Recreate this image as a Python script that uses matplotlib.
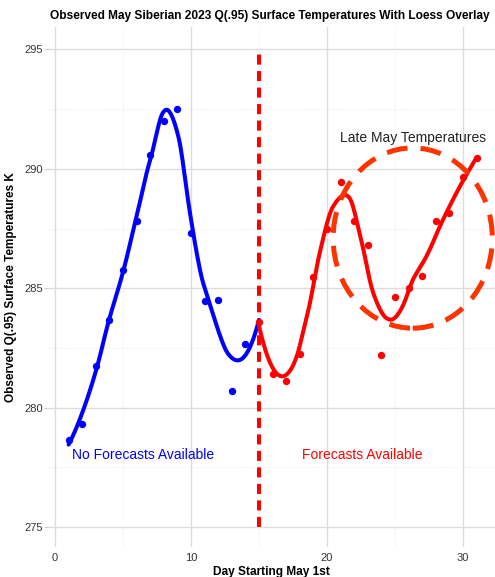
import numpy as np
import matplotlib
matplotlib.use("Agg")
import matplotlib.pyplot as plt
from matplotlib.patches import Ellipse

plt.rcParams['font.family'] = ['Liberation Sans', 'DejaVu Sans']

# Observed daily Q(.95) surface temperatures (K), May 2023, Siberia
days_hist = [1, 2, 3, 4, 5, 6, 7, 8, 9, 10, 11, 12, 13, 14, 15]
temps_hist = [278.63, 279.30, 281.73, 283.66, 285.75, 287.81, 290.58, 292.0,
              292.5, 287.3, 284.45, 284.5, 280.69, 282.68, 283.6]

days_fc = [15, 16, 17, 18, 19, 20, 21, 22, 23, 24, 25, 26, 27, 28, 29, 30, 31]
temps_fc = [283.6, 281.4, 281.1, 282.26, 285.45, 287.5, 289.43, 287.82, 286.82,
            282.19, 284.64, 285.01, 285.49, 287.81, 288.13, 289.64, 290.44]

x_ticks = [0, 10, 20, 30]
y_ticks = [275, 280, 285, 290, 295]

SPAN = 0.45


def loess(x, y, xs, span=0.75):
    """Local quadratic regression with tricube weights."""
    x = np.asarray(x, float)
    y = np.asarray(y, float)
    n = len(x)
    q = int(np.floor(span * n))
    out = np.empty(len(xs))
    for i, x0 in enumerate(xs):
        d = np.abs(x - x0)
        ds = np.sort(d)
        D = ds[q - 1] if q >= n else (ds[q - 1] + ds[q]) / 2
        D *= 1.0001
        w = np.clip(1 - (d / D) ** 3, 0, None) ** 3
        X = np.vstack([np.ones(n), x - x0, (x - x0) ** 2]).T
        W = np.sqrt(w)
        beta, *_ = np.linalg.lstsq(X * W[:, None], y * W, rcond=None)
        out[i] = beta[0]
    return out


fig = plt.figure(figsize=(4.95, 5.77), dpi=100)
ax = fig.add_axes([48 / 495, 1 - 547 / 577, 1 - 48 / 495, 520 / 577])

ax.set_xlim(-0.515, 32.35)
ax.set_ylim(274.16, 295.94)

# grid
for s in ax.spines.values():
    s.set_visible(False)
ax.set_xticks(x_ticks)
ax.set_yticks(y_ticks)
ax.set_xticks([5, 15, 25], minor=True)
ax.set_yticks([277.5, 282.5, 287.5, 292.5], minor=True)
ax.grid(which='major', color='#dcdcdc', lw=1.0)
ax.grid(which='minor', color='#ececec', lw=0.8, ls=(0, (1, 1.5)))
ax.tick_params(which='both', length=0, labelsize=8, colors='#333333')
ax.tick_params(axis='x', which='major', pad=4.5)
ax.tick_params(axis='y', which='major', length=3, color='#cccccc', pad=0.8)
ax.set_axisbelow(True)

# smoothed curves
xs_h = np.linspace(min(days_hist), max(days_hist), 200)
xs_f = np.linspace(min(days_fc), max(days_fc), 200)
ax.plot(xs_h, loess(days_hist, temps_hist, xs_h, SPAN), color='#0000ff', lw=2.9,
        solid_capstyle='round', zorder=3)
ax.plot(xs_f, loess(days_fc, temps_fc, xs_f, SPAN), color='#ff0000', lw=2.9,
        solid_capstyle='round', zorder=3)

ax.scatter(days_hist[:-1], temps_hist[:-1], s=28, color='#0000ff', zorder=4, lw=0)
ax.scatter(days_fc, temps_fc, s=28, color='#ff0000', zorder=4, lw=0)

# forecast boundary
ax.plot([15, 15], [275, 295], color='#ff0000', lw=2.9, dashes=(2.5, 1.6), zorder=2)

# highlight of late May
ax.add_patch(Ellipse((26.3, 287.1), 11.7, 7.55, fill=False, edgecolor='#ff3300',
                     lw=3.6, linestyle=(0, (4.2, 2.6)), zorder=5))
ax.text(26.3, 291.3, 'Late May Temperatures', ha='center', va='center',
        fontsize=10, color='#222222')

ax.text(6.5, 278.0, 'No Forecasts Available', ha='center', va='center',
        fontsize=10, color='#0000ff')
ax.text(22.6, 278.0, 'Forecasts Available', ha='center', va='center',
        fontsize=10, color='#ff0000')

ax.set_xlabel('Day Starting May 1st', fontsize=8.6, fontweight='bold')
ax.xaxis.set_label_coords(0.5, -0.036)
ax.set_ylabel('Observed Q(.95) Surface Temperatures K', fontsize=8.5,
              fontweight='bold')
ax.yaxis.set_label_coords(-0.069, 0.5)
fig.text(50 / 495, 1 - 16 / 577,
         'Observed May Siberian 2023 Q(.95) Surface Temperatures With Loess Overlay',
         fontsize=8.6, fontweight='bold', ha='left', va='center')

fig.savefig('out.png', dpi=100)
